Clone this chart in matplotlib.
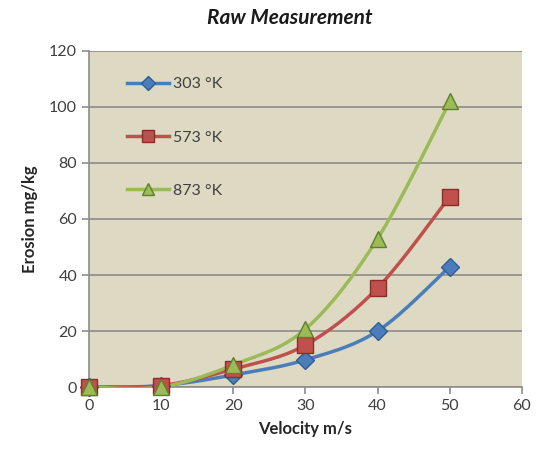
import numpy as np
import matplotlib
matplotlib.use('Agg')
import matplotlib.pyplot as plt

plt.rcParams['font.family'] = ['Lato', 'DejaVu Sans']

velocity = [0, 10, 20, 30, 40, 50]
erosion_303 = [0, 0.5, 4.3, 9.7, 20, 43]
erosion_573 = [0, 0.5, 6.4, 15, 35.4, 68]
erosion_873 = [0, 0, 7.9, 20.7, 53, 102]
labels = ['303 °K', '573 °K', '873 °K']


def smooth(x, y, n=30):
    # Excel style smoothing: bezier segments with catmull-rom control points
    x = np.asarray(x, float)
    y = np.asarray(y, float)
    pts = np.column_stack([x, y])
    out = [pts[0]]
    t = np.linspace(0, 1, n)[1:, None]
    for i in range(len(pts) - 1):
        p0 = pts[max(i - 1, 0)]
        p1 = pts[i]
        p2 = pts[i + 1]
        p3 = pts[min(i + 2, len(pts) - 1)]
        c1 = p1 + (p2 - p0) / 6
        c2 = p2 - (p3 - p1) / 6
        seg = ((1 - t) ** 3) * p1 + 3 * ((1 - t) ** 2) * t * c1 + 3 * (1 - t) * t ** 2 * c2 + t ** 3 * p2
        out.extend(seg)
    out = np.array(out)
    return out[:, 0], out[:, 1]


fig = plt.figure(figsize=(5.37, 4.61), dpi=100)
ax = fig.add_axes([0.1657, 0.1605, 0.8063, 0.7289])
ax.set_facecolor('#DDD9C3')

series = [
    (erosion_303, '#4A7EBB', '#2E5C95', 'D', 9),
    (erosion_573, '#C0504D', '#8C2D2A', 's', 11),
    (erosion_873, '#9BBB59', '#5F7F2A', '^', 11),
]
handles = []
for (vals, col, dark, mk, ms), lab in zip(series, labels):
    sx, sy = smooth(velocity, vals)
    ax.plot(sx, sy, color=col, lw=2.5, zorder=3)
    ax.plot(velocity, vals, ls='none', marker=mk, ms=ms, mfc=col, mec=dark,
            mew=1, zorder=4, clip_on=False)
    h, = ax.plot([], [], color=col, lw=2.5, marker=mk, ms=ms * 0.8, mfc=col, mec=dark)
    handles.append(h)

ax.set_xlim(0, 60)
ax.set_ylim(0, 120)
ax.set_xticks(range(0, 61, 10))
ax.set_yticks(range(0, 121, 20))
ax.yaxis.grid(True, color='#8C8C8C', lw=1.2)
ax.set_axisbelow(True)
for s in ['top', 'right']:
    ax.spines[s].set_visible(False)
for s in ['left', 'bottom']:
    ax.spines[s].set_color('#8C8C8C')
    ax.spines[s].set_linewidth(1.2)
ax.tick_params(colors='#8C8C8C', labelcolor='#404040', labelsize=11.5, length=5, width=1.2)

ax.set_xlabel('Velocity m/s', fontsize=12, fontweight='bold', color='#262626', labelpad=6)
ax.set_ylabel('Erosion mg/kg', fontsize=12, fontweight='bold', color='#262626', labelpad=8)
fig.text(0.54, 0.96, 'Raw Measurement', ha='center', va='center', fontsize=15,
         fontweight='bold', fontstyle='italic', color='#1a1a1a')

ax.legend(handles, labels, loc='upper left', bbox_to_anchor=(0.055, 0.965), frameon=False,
          fontsize=11.5, labelspacing=2.45, handlelength=2.6, handletextpad=0.3,
          labelcolor='#404040')

fig.savefig('out.png', dpi=100)
